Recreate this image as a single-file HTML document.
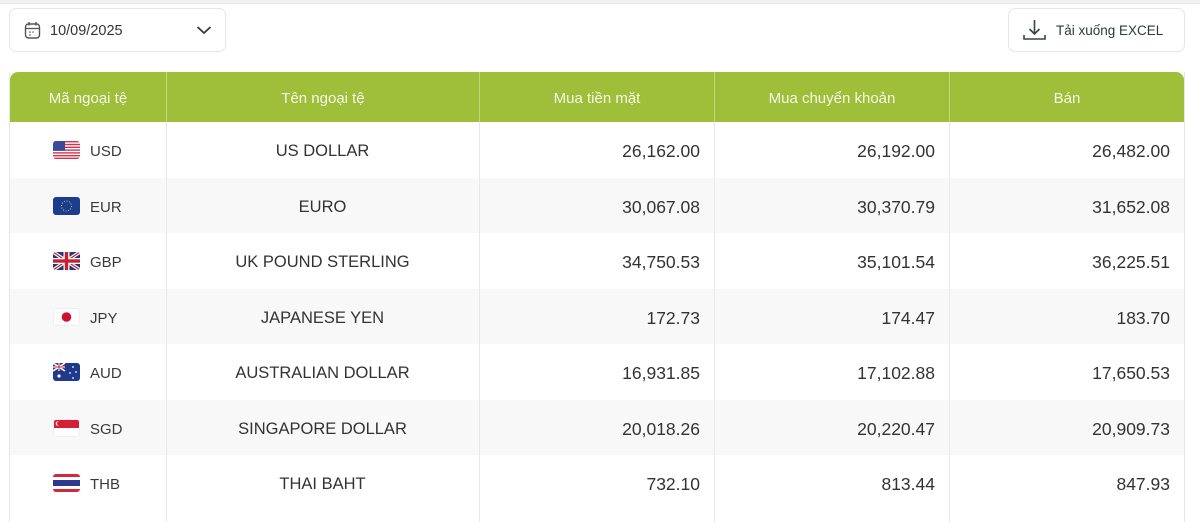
<!DOCTYPE html>
<html><head><meta charset="utf-8"><style>
*{margin:0;padding:0;box-sizing:border-box}
body{width:1200px;height:510px;background:#fff;font-family:"Liberation Sans",sans-serif;position:relative;overflow:hidden;color:#333}
.topline{position:absolute;left:0;top:0;width:1200px;height:4px;background:#f1f1f1;border-bottom:1px solid #e8e8e8}
.date{position:absolute;left:9px;top:8px;width:217px;height:44px;border:1px solid #e6e6e6;border-radius:7px}
.date span{position:absolute;left:40px;top:14px;font-size:14.5px;color:#333}
.excel{position:absolute;left:1008px;top:8px;width:177px;height:44px;border:1px solid #e6e6e6;border-radius:7px}
.excel span{position:absolute;left:47px;top:14px;font-size:13.5px;color:#2e3a33}
.tbl{position:absolute;left:9px;top:72px;width:1176px;height:450px;border-left:1px solid #e6e6e6;border-right:1px solid #e6e6e6}
.hdr{position:absolute;left:0;top:0;width:1174px;height:50px;background:#9fbf3b;border-radius:8px 8px 0 0}
.hc{position:absolute;top:0;height:50px;line-height:54px;text-align:center;color:#f4f8e6;font-size:15px;border-left:1px solid #c2d87e}
.row{position:absolute;left:0;width:1174px;height:55.5px}
.row.alt{background:#f8f8f8}
.c{position:absolute;top:2px;height:55.5px;line-height:55.5px;font-size:16.5px;color:#333}
.vl{position:absolute;top:50px;width:1px;height:400px;background:#e8e8e8}
.num{text-align:right;font-size:17.5px;padding-right:14px}
.code{left:80px;font-size:15px;color:#3a3a3a}
.flag{position:absolute;left:43px;top:19px;width:27px;height:18px;border-radius:3px;overflow:hidden}
</style></head><body>
<div class="topline"></div>
<div class="date">
<svg style="position:absolute;left:14px;top:12px" width="18" height="19" viewBox="0 0 18 19"><rect x="1.5" y="3" width="14" height="14" rx="3" fill="none" stroke="#555" stroke-width="1.4"/><line x1="1.5" y1="7.5" x2="15.5" y2="7.5" stroke="#555" stroke-width="1.3"/><line x1="5" y1="1" x2="5" y2="4.5" stroke="#555" stroke-width="1.4"/><line x1="12" y1="1" x2="12" y2="4.5" stroke="#555" stroke-width="1.4"/><circle cx="6" cy="11" r=".8" fill="#555"/><circle cx="9" cy="11" r=".8" fill="#555"/><circle cx="6" cy="14" r=".8" fill="#555"/></svg>
<span>10/09/2025</span>
<svg style="position:absolute;left:186px;top:15px" width="16" height="12" viewBox="0 0 16 12"><polyline points="1.5,3 8,9 14.5,3" fill="none" stroke="#333" stroke-width="1.7"/></svg>
</div>
<div class="excel">
<svg style="position:absolute;left:13px;top:10px" width="25" height="23" viewBox="0 0 25 23"><line x1="12.5" y1="1" x2="12.5" y2="15" stroke="#2f4a3c" stroke-width="1.6"/><polyline points="7.5,10 12.5,15 17.5,10" fill="none" stroke="#2f4a3c" stroke-width="1.6"/><polyline points="2,16 2,20 23,20 23,16" fill="none" stroke="#2f4a3c" stroke-width="1.6"/></svg>
<span>Tải xuống EXCEL</span>
</div>
<div class="tbl">
<div class="hdr">
<div class="hc" style="left:0;width:156px;border-left:none">Mã ngoại tệ</div>
<div class="hc" style="left:156px;width:313px">Tên ngoại tệ</div>
<div class="hc" style="left:469px;width:235px">Mua tiền mặt</div>
<div class="hc" style="left:704px;width:235px">Mua chuyển khoản</div>
<div class="hc" style="left:939px;width:235px">Bán</div>
</div>

<div class="row" style="top:50px">
<div class="flag"><svg width="27" height="18" viewBox="0 0 27 18"><rect width="27" height="18" fill="#fff"/><g fill="#d0344a"><rect y="0" width="27" height="1.4"/><rect y="2.8" width="27" height="1.4"/><rect y="5.6" width="27" height="1.4"/><rect y="8.4" width="27" height="1.4"/><rect y="11.2" width="27" height="1.4"/><rect y="14" width="27" height="1.4"/><rect y="16.6" width="27" height="1.4"/></g><rect width="12" height="9.8" fill="#3a4b9a"/></svg></div>
<div class="c code">USD</div>
<div class="c" style="left:156px;width:313px;text-align:center">US DOLLAR</div>
<div class="c num" style="left:469px;width:235px">26,162.00</div>
<div class="c num" style="left:704px;width:235px">26,192.00</div>
<div class="c num" style="left:939px;width:235px">26,482.00</div>
</div>

<div class="row alt" style="top:105.5px">
<div class="flag"><svg width="27" height="18" viewBox="0 0 27 18"><rect width="27" height="18" fill="#1a3d8f"/><circle cx="13.5" cy="9" r="5" fill="none" stroke="#e8c33a" stroke-width="1" stroke-dasharray="1 1.6"/></svg></div>
<div class="c code">EUR</div>
<div class="c" style="left:156px;width:313px;text-align:center">EURO</div>
<div class="c num" style="left:469px;width:235px">30,067.08</div>
<div class="c num" style="left:704px;width:235px">30,370.79</div>
<div class="c num" style="left:939px;width:235px">31,652.08</div>
</div>

<div class="row" style="top:161px">
<div class="flag"><svg width="27" height="18" viewBox="0 0 27 18"><rect width="27" height="18" fill="#24357a"/><path d="M0 0L27 18M27 0L0 18" stroke="#fff" stroke-width="3.5"/><path d="M0 0L27 18M27 0L0 18" stroke="#c8202f" stroke-width="1.2"/><rect x="10.5" width="6" height="18" fill="#fff"/><rect y="6" width="27" height="6" fill="#fff"/><rect x="11.8" width="3.4" height="18" fill="#c8202f"/><rect y="7.3" width="27" height="3.4" fill="#c8202f"/></svg></div>
<div class="c code">GBP</div>
<div class="c" style="left:156px;width:313px;text-align:center">UK POUND STERLING</div>
<div class="c num" style="left:469px;width:235px">34,750.53</div>
<div class="c num" style="left:704px;width:235px">35,101.54</div>
<div class="c num" style="left:939px;width:235px">36,225.51</div>
</div>

<div class="row alt" style="top:216.5px">
<div class="flag" style="border:1px solid #eee"><svg width="27" height="18" viewBox="0 0 27 18" style="position:absolute;left:-1px;top:-1px"><rect width="27" height="18" fill="#fff"/><circle cx="13.5" cy="9" r="4.8" fill="#d0112b"/></svg></div>
<div class="c code">JPY</div>
<div class="c" style="left:156px;width:313px;text-align:center">JAPANESE YEN</div>
<div class="c num" style="left:469px;width:235px">172.73</div>
<div class="c num" style="left:704px;width:235px">174.47</div>
<div class="c num" style="left:939px;width:235px">183.70</div>
</div>

<div class="row" style="top:272px">
<div class="flag"><svg width="27" height="18" viewBox="0 0 27 18"><rect width="27" height="18" fill="#1f3a8c"/><rect width="12" height="8" fill="#2a3f8e"/><path d="M0 0L12 8M12 0L0 8" stroke="#fff" stroke-width="1.6"/><rect x="5" width="2" height="8" fill="#fff"/><rect y="3" width="12" height="2" fill="#fff"/><rect x="5.5" width="1" height="8" fill="#c8202f"/><rect y="3.5" width="12" height="1" fill="#c8202f"/><circle cx="6" cy="13" r="1.6" fill="#fff"/><circle cx="20" cy="4" r=".9" fill="#fff"/><circle cx="23" cy="9" r=".9" fill="#fff"/><circle cx="17" cy="10" r=".9" fill="#fff"/><circle cx="20" cy="15" r=".9" fill="#fff"/></svg></div>
<div class="c code">AUD</div>
<div class="c" style="left:156px;width:313px;text-align:center">AUSTRALIAN DOLLAR</div>
<div class="c num" style="left:469px;width:235px">16,931.85</div>
<div class="c num" style="left:704px;width:235px">17,102.88</div>
<div class="c num" style="left:939px;width:235px">17,650.53</div>
</div>

<div class="row alt" style="top:327.5px">
<div class="flag" style="border:1px solid #eee"><svg width="27" height="18" viewBox="0 0 27 18" style="position:absolute;left:-1px;top:-1px"><rect width="27" height="18" fill="#fff"/><rect width="27" height="9" fill="#d41f35"/><circle cx="5" cy="4.5" r="2.3" fill="#fff"/><circle cx="6" cy="4.5" r="2.1" fill="#d41f35"/></svg></div>
<div class="c code">SGD</div>
<div class="c" style="left:156px;width:313px;text-align:center">SINGAPORE DOLLAR</div>
<div class="c num" style="left:469px;width:235px">20,018.26</div>
<div class="c num" style="left:704px;width:235px">20,220.47</div>
<div class="c num" style="left:939px;width:235px">20,909.73</div>
</div>

<div class="row" style="top:383px">
<div class="flag"><svg width="27" height="18" viewBox="0 0 27 18"><rect width="27" height="18" fill="#d3283a"/><rect y="3" width="27" height="12" fill="#fff"/><rect y="6" width="27" height="6" fill="#2b3a8c"/></svg></div>
<div class="c code">THB</div>
<div class="c" style="left:156px;width:313px;text-align:center">THAI BAHT</div>
<div class="c num" style="left:469px;width:235px">732.10</div>
<div class="c num" style="left:704px;width:235px">813.44</div>
<div class="c num" style="left:939px;width:235px">847.93</div>
</div>

<div class="vl" style="left:156px"></div>
<div class="vl" style="left:469px"></div>
<div class="vl" style="left:704px"></div>
<div class="vl" style="left:939px"></div>
</div>
</body></html>
